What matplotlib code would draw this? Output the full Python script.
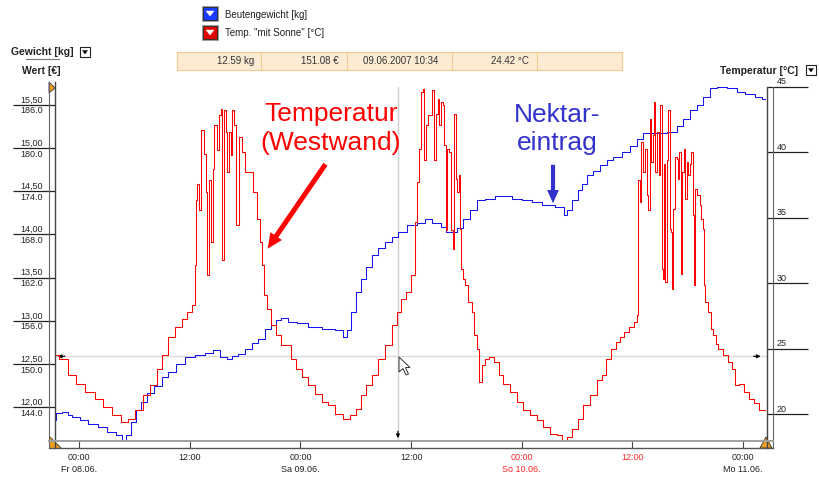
import matplotlib
matplotlib.use("Agg")
import matplotlib.pyplot as plt
from matplotlib import transforms
from matplotlib.lines import Line2D
from matplotlib.patches import Rectangle, Polygon, FancyArrowPatch

plt.rcParams['font.family'] = ['Liberation Sans', 'DejaVu Sans']

W, H = 819, 479

# Stunden seit Fr 08.06.2007 00:00
temp_hours = [
    -2.60, -1.70, -0.79, 0.11, 1.19, 2.28, 3.00, 4.09, 4.99, 5.71,
    6.43, 7.34, 8.05, 8.78, 9.32, 10.05, 10.76, 11.49, 12.03, 12.50,
    12.65, 12.74, 12.93, 13.12, 13.41, 13.66, 13.84, 14.02, 14.20, 14.45,
    14.56, 14.74, 15.10, 15.28, 15.47, 15.64, 15.83, 16.01, 16.18, 16.37,
    16.55, 16.73, 16.91, 17.16, 17.45, 17.81, 18.18, 18.72, 19.08, 19.44,
    19.73, 19.87, 20.16, 20.52, 21.06, 21.60, 22.15, 22.69, 23.23, 23.77,
    24.50, 25.23, 25.94, 26.67, 27.39, 28.11, 29.02, 29.73, 30.28, 30.82,
    31.36, 32.09, 32.81, 33.53, 34.25, 34.61, 35.15, 35.70, 36.24, 36.50,
    36.72, 36.97, 37.21, 37.32, 37.51, 37.69, 38.05, 38.41, 38.59, 38.78,
    38.95, 39.13, 39.32, 39.49, 39.67, 39.86, 40.03, 40.22, 40.40, 40.58,
    40.76, 40.94, 41.12, 41.23, 41.38, 41.49, 41.66, 42.03, 42.39, 42.74,
    42.93, 43.28, 43.47, 43.83, 44.20, 44.74, 45.34, 45.64, 46.36, 47.08,
    47.80, 48.53, 49.25, 49.97, 50.70, 51.42, 52.14, 52.68, 53.22, 53.77,
    54.31, 55.04, 55.75, 56.48, 56.84, 57.38, 57.92, 58.46, 58.83, 59.37,
    59.91, 60.46, 60.56, 60.70, 60.89, 61.06, 61.25, 61.43, 61.61, 61.82,
    61.90, 62.08, 62.26, 62.37, 62.55, 62.73, 62.91, 63.09, 63.23, 63.34,
    63.52, 63.63, 63.82, 63.96, 64.07, 64.25, 64.36, 64.50, 64.68, 64.86,
    65.04, 65.15, 65.26, 65.44, 65.62, 65.77, 65.94, 66.12, 66.31, 66.45,
    66.59, 66.74, 66.88, 67.06, 67.24, 67.39, 67.53, 67.67, 67.78, 68.04,
    68.33, 68.59, 68.94, 69.13, 69.49, 70.03, 70.57, 70.93, 71.30, 71.84,
    72.38, 72.92, 73.46, 74.01, 74.36,
]
temp_values = [
    24.53, 24.23, 22.96, 22.32, 21.68, 21.17, 20.54, 19.90, 19.39, 19.64,
    20.28, 21.43, 22.19, 23.46, 24.49, 25.89, 26.65, 27.29, 27.80, 28.31,
    31.37, 36.34, 37.61, 35.60, 41.69, 39.90, 36.97, 30.60, 37.87, 33.15,
    38.75, 42.07, 40.16, 42.84, 43.34, 31.75, 43.22, 41.56, 38.50, 41.56,
    39.78, 43.22, 42.07, 34.43, 41.18, 40.03, 38.50, 38.50, 36.97, 34.93,
    33.15, 31.37, 29.07, 28.05, 26.78, 26.02, 25.25, 25.25, 24.23, 23.46,
    22.83, 22.19, 21.55, 20.92, 20.67, 20.02, 19.64, 19.90, 20.41, 21.43,
    22.19, 22.96, 24.23, 25.25, 26.78, 27.80, 28.82, 29.33, 30.60, 34.68,
    37.74, 40.28, 44.62, 44.87, 39.42, 42.07, 42.84, 44.75, 39.42, 42.96,
    44.11, 42.07, 43.85, 43.60, 40.54, 34.04, 40.28, 40.03, 34.04, 32.64,
    42.96, 37.99, 36.97, 38.25, 34.17, 31.11, 30.34, 29.84, 28.56, 27.80,
    26.02, 24.99, 22.45, 23.72, 24.23, 24.36, 23.98, 22.96, 22.32, 21.68,
    20.92, 20.31, 19.90, 19.52, 19.01, 18.49, 18.37, 17.99, 18.24, 18.88,
    19.64, 20.67, 21.43, 22.60, 22.96, 24.23, 24.99, 25.50, 25.89, 26.27,
    26.65, 27.03, 27.55, 37.87, 36.21, 40.80, 38.50, 40.28, 36.72, 35.57,
    42.58, 39.27, 41.31, 43.85, 38.50, 41.56, 38.25, 43.60, 31.11, 30.34,
    39.14, 30.09, 39.40, 43.22, 34.17, 33.91, 29.58, 35.70, 39.65, 39.52,
    37.99, 40.03, 30.73, 38.50, 40.28, 36.46, 39.27, 38.25, 39.14, 40.03,
    35.19, 29.84, 37.22, 36.72, 36.72, 35.96, 34.93, 34.17, 29.84, 28.56,
    27.80, 26.52, 26.02, 25.37, 24.99, 24.49, 23.98, 23.46, 22.19, 22.32,
    21.68, 21.17, 20.81, 20.28, 20.28,
]

weight_hours = [
    -2.60, -2.42, -1.33, -1.16, -0.25, 0.47, 1.55, 2.63, 3.54, 4.44,
    4.88, 5.34, 5.89, 6.43, 6.97, 7.70, 8.60, 9.32, 10.05, 10.95,
    12.03, 13.12, 14.20, 14.93, 15.64, 16.37, 16.91, 17.64, 18.35, 19.08,
    19.81, 20.52, 21.06, 21.60, 22.15, 23.06, 24.14, 25.58, 27.02, 28.48,
    28.83, 29.19, 29.73, 30.28, 30.82, 31.36, 32.09, 32.81, 33.53, 34.25,
    34.98, 36.07, 37.15, 37.86, 38.77, 39.67, 39.86, 40.76, 41.30, 42.03,
    42.74, 43.47, 44.55, 45.64, 46.36, 47.45, 48.53, 49.62, 50.70, 52.50,
    52.68, 53.22, 53.77, 54.31, 54.85, 55.39, 56.12, 56.84, 57.56, 58.28,
    59.37, 60.09, 60.81, 61.54, 62.98, 64.42, 65.15, 65.88, 66.59, 67.32,
    68.04, 68.76, 69.49, 70.93, 71.65, 72.74, 73.82, 74.36,
]
weight_values = [
    11.85, 11.93, 11.94, 11.91, 11.89, 11.85, 11.81, 11.77, 11.71, 11.68,
    11.61, 11.68, 11.83, 11.97, 12.06, 12.16, 12.25, 12.35, 12.41, 12.50,
    12.58, 12.60, 12.63, 12.66, 12.58, 12.56, 12.59, 12.62, 12.68, 12.74,
    12.79, 12.91, 12.95, 13.01, 13.03, 12.99, 12.97, 12.93, 12.91, 12.89,
    12.81, 12.89, 13.10, 13.33, 13.49, 13.62, 13.76, 13.84, 13.91, 13.97,
    14.03, 14.11, 14.13, 14.18, 14.13, 14.09, 14.03, 14.03, 14.07, 14.18,
    14.28, 14.40, 14.41, 14.45, 14.45, 14.41, 14.40, 14.38, 14.34, 14.32,
    14.22, 14.28, 14.40, 14.51, 14.59, 14.69, 14.74, 14.80, 14.86, 14.90,
    14.95, 15.03, 15.11, 15.17, 15.18, 15.19, 15.26, 15.34, 15.44, 15.50,
    15.59, 15.70, 15.71, 15.69, 15.65, 15.63, 15.59, 15.57,
]

tick_hours = [0, 12, 24, 36, 48, 60, 72]
tick_times = ["00:00", "12:00", "00:00", "12:00", "00:00", "12:00", "00:00"]
tick_days = ["Fr 08.06.", "", "Sa 09.06.", "", "So 10.06.", "", "Mo 11.06."]
tick_sunday = [False, False, False, False, True, True, False]

weight_ticks = [12.0, 12.5, 13.0, 13.5, 14.0, 14.5, 15.0, 15.5]
price_per_kg = 12.0
temp_ticks = [20, 25, 30, 35, 40, 45]

cursor_hours = 34.57
cursor_weight = 12.59
cursor_temp = 24.42
cursor_stamp = "09.06.2007 10:34"

RED = "#ff0000"
BLUE = "#1515f0"
NEKTAR = "#3333cc"


def fx(x):
    return x / W


def fy(y):
    return 1 - y / H


def fig_line(fig, x0, y0, x1, y1, color="#555555", lw=0.8):
    fig.add_artist(Line2D([fx(x0), fx(x1)], [fy(y0), fy(y1)],
                          transform=fig.transFigure, color=color, lw=lw))


def fig_poly(fig, pts, face, edge="#333333", lw=0.6):
    fig.add_artist(Polygon([(fx(x), fy(y)) for x, y in pts], closed=True,
                           transform=fig.transFigure, facecolor=face,
                           edgecolor=edge, lw=lw))


def fig_rect(fig, x, y, w, h, face, edge, lw=0.8):
    fig.add_artist(Rectangle((fx(x), fy(y + h)), w / W, h / H,
                             transform=fig.transFigure, facecolor=face,
                             edgecolor=edge, lw=lw))


def dropdown(fig, x, y):
    fig_rect(fig, x, y, 10, 10, "white", "#222222", 0.8)
    fig_poly(fig, [(x + 2.5, y + 3.5), (x + 7.5, y + 3.5), (x + 5, y + 7)],
             "black", "black", 0.3)


def legend_icon(fig, x, y, color):
    fig_rect(fig, x - 1, y - 1, 16, 15, "#d8d8d8", "#909090", 0.6)
    fig_rect(fig, x, y, 14, 13, color, "#202020", 0.6)
    fig_poly(fig, [(x + 3, y + 4), (x + 11, y + 4), (x + 7, y + 9)],
             "white", "white", 0.3)


def main():
    fig = plt.figure(figsize=(W / 100, H / 100), dpi=100)
    ax = fig.add_axes([fx(55), fy(441), (767 - 55) / W, (441 - 82) / H])
    ax.set_xlim(-2.60, 74.58)
    ax.set_ylim(11.61, 15.765)
    ax_t = ax.twinx()
    ax_t.set_ylim(17.94, 45.38)
    for a in (ax, ax_t):
        for s in a.spines.values():
            s.set_visible(False)

    # Kurven
    ax.plot(weight_hours, weight_values, color=BLUE, lw=0.75,
            drawstyle="steps-mid", zorder=3)
    ax_t.plot(temp_hours, temp_values, color=RED, lw=0.75,
              drawstyle="steps-mid", zorder=3)

    # Fadenkreuz
    ax.axhline(cursor_weight, color="#d9d9d9", lw=1, zorder=1)
    ax.axvline(cursor_hours, ymax=(441 - 87) / (441 - 82), color="#cfcfcf",
               lw=1, zorder=1)

    # Achsen und Ticks
    ax.set_xticks(tick_hours)
    ax.tick_params(axis="x", direction="out", length=5.2, width=0.8,
                   color="#444444", labelbottom=False)
    ax.set_yticks(weight_ticks)
    ax.tick_params(axis="y", direction="out", length=30.2, width=0.9,
                   color="#222222", labelleft=False)
    ax_t.set_yticks(temp_ticks)
    ax_t.tick_params(axis="y", direction="out", length=29.5, width=0.9,
                     color="#222222", labelright=False)

    tl = transforms.blended_transform_factory(fig.transFigure, ax.transData)
    up = transforms.offset_copy(tl, fig=fig, y=0.5, units="dots")
    down = transforms.offset_copy(tl, fig=fig, y=-1.5, units="dots")
    for w in weight_ticks:
        ax.text(fx(43), w, f"{w:.2f}".replace(".", ","), transform=up,
                ha="right", va="bottom", fontsize=6.5, color="#222222")
        ax.text(fx(43), w, f"{w * price_per_kg:.1f}", transform=down,
                ha="right", va="top", fontsize=6.5, color="#222222")

    tr = transforms.blended_transform_factory(fig.transFigure, ax_t.transData)
    up_r = transforms.offset_copy(tr, fig=fig, y=0.5, units="dots")
    for t in temp_ticks:
        ax_t.text(fx(777), t, f"{t}", transform=up_r, ha="left",
                  va="bottom", fontsize=6.5, color="#222222")

    tb = transforms.blended_transform_factory(ax.transData, fig.transFigure)
    for h, tt, dd, sun in zip(tick_hours, tick_times, tick_days, tick_sunday):
        c = "#ff2a2a" if sun else "#222222"
        ax.text(h, fy(457), tt, transform=tb, ha="center", va="center",
                fontsize=6.5, color=c)
        if dd:
            ax.text(h, fy(470), dd, transform=tb, ha="center", va="center",
                    fontsize=6.5, color=c)

    # Rahmenleisten
    fig_line(fig, 49, 82, 49, 448, "#666666", 0.8)
    fig_line(fig, 55, 82, 55, 448, "#444444", 1.0)
    fig_line(fig, 767, 87, 767, 448, "#444444", 1.0)
    fig_line(fig, 773, 87, 773, 448, "#666666", 0.8)
    fig_line(fig, 49, 441, 773, 441, "#a0a0a0", 1.4)
    fig_line(fig, 49, 448, 773, 448, "#555555", 1.0)
    fig_poly(fig, [(49, 82), (49, 93), (55, 88)], "#f0a020")
    fig_poly(fig, [(49, 436), (49, 448), (61, 448)], "#f0a020")
    fig_poly(fig, [(760, 448), (772, 448), (766, 437)], "#f0a020")

    # Kopfbereich
    fig.text(fx(11), fy(52), "Gewicht [kg]", fontsize=7.5, weight="bold",
             ha="left", va="center", color="#222222")
    fig_line(fig, 26, 59, 59, 59, "#777777", 0.8)
    fig.text(fx(22), fy(71), "Wert [€]", fontsize=7.5, weight="bold",
             ha="left", va="center", color="#222222")
    fig.text(fx(720), fy(71), "Temperatur [°C]", fontsize=7.5, weight="bold",
             ha="left", va="center", color="#222222")
    dropdown(fig, 80, 47)
    dropdown(fig, 806, 65)

    legend_icon(fig, 203, 7, "#1a3cff")
    legend_icon(fig, 203, 26, "#e00000")
    fig.text(fx(225), fy(15), "Beutengewicht [kg]", fontsize=7,
             ha="left", va="center", color="#222222")
    fig.text(fx(225), fy(33), 'Temp. "mit Sonne" [°C]', fontsize=7,
             ha="left", va="center", color="#222222")

    # Infoleiste zum Cursor
    fig_rect(fig, 177, 52, 445, 18, "#fdebd3", "#f6c98f", 0.8)
    for xd in (261, 347, 452, 537):
        fig_line(fig, xd, 52, xd, 70, "#f6c98f", 0.8)
    info = [
        (254, "right", f"{cursor_weight:.2f} kg"),
        (339, "right", f"{cursor_weight * price_per_kg:.2f} €"),
        (363, "left", cursor_stamp),
        (529, "right", f"{cursor_temp:.2f} °C"),
    ]
    for xp, ha, txt in info:
        fig.text(fx(xp), fy(61), txt, fontsize=7, ha=ha, va="center",
                 color="#333333")

    # kleine Cursor-Pfeile
    ax.annotate("", xy=(0, cursor_weight), xycoords=("axes fraction", "data"),
                xytext=(9, 0), textcoords="offset points",
                arrowprops=dict(arrowstyle="-|>", color="black", lw=0.9,
                                mutation_scale=5))
    ax.annotate("", xy=(0.995, cursor_weight),
                xycoords=("axes fraction", "data"),
                xytext=(-9, 0), textcoords="offset points",
                arrowprops=dict(arrowstyle="-|>", color="black", lw=0.9,
                                mutation_scale=5))
    ax.annotate("", xy=(cursor_hours, 0), xycoords=("data", "axes fraction"),
                xytext=(0, 9), textcoords="offset points",
                arrowprops=dict(arrowstyle="-|>", color="black", lw=0.9,
                                mutation_scale=5))
    fig_poly(fig, [(399, 357), (399, 372), (403, 368.5), (406, 375),
                   (408.5, 374), (405.5, 367.5), (410, 367.5)],
             "white", "#333333", 0.7)

    # Beschriftungen
    fig.text(fx(331), fy(121), "Temperatur", fontsize=19, color=RED,
             ha="center", va="baseline")
    fig.text(fx(331), fy(150), "(Westwand)", fontsize=19, color=RED,
             ha="center", va="baseline")
    fig.add_artist(FancyArrowPatch(
        (fx(327), fy(162)), (fx(266), fy(251)), transform=fig.transFigure,
        arrowstyle="simple,head_length=1.1,head_width=1.0,tail_width=0.36",
        mutation_scale=10, color=RED, lw=0))

    fig.text(fx(557), fy(122), "Nektar-", fontsize=19, color=NEKTAR,
             ha="center", va="baseline")
    fig.text(fx(557), fy(150), "eintrag", fontsize=19, color=NEKTAR,
             ha="center", va="baseline")
    fig.add_artist(FancyArrowPatch(
        (fx(553), fy(162)), (fx(553), fy(206)), transform=fig.transFigure,
        arrowstyle="simple,head_length=0.95,head_width=0.85,tail_width=0.3",
        mutation_scale=10, color=NEKTAR, lw=0))

    fig.savefig("out.png", dpi=100)


if __name__ == '__main__':
    main()
